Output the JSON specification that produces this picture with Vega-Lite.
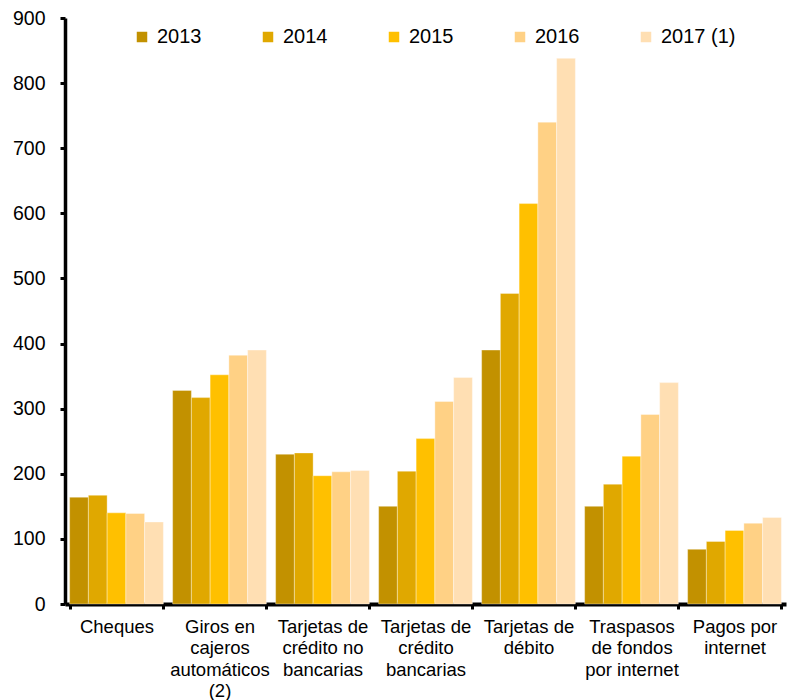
{
  "$schema": "https://vega.github.io/schema/vega-lite/v6.json",
  "width": 721,
  "height": 586,
  "autosize": {"type": "none"},
  "padding": {"left": 65, "top": 18, "right": 2, "bottom": 96},
  "background": "white",
  "config": {
    "view": {"stroke": null},
    "font": "Liberation Sans",
    "axis": {"labelFont": "Liberation Sans", "labelColor": "#000", "grid": false, "domainColor": "#000", "tickColor": "#000"},
    "legend": {"labelFont": "Liberation Sans"}
  },
  "data": {
    "values": [
      {"cat": "Cheques", "year": "2013", "value": 164},
      {"cat": "Cheques", "year": "2014", "value": 167},
      {"cat": "Cheques", "year": "2015", "value": 140},
      {"cat": "Cheques", "year": "2016", "value": 139},
      {"cat": "Cheques", "year": "2017 (1)", "value": 126},
      {"cat": "Giros en|cajeros|automáticos|(2)", "year": "2013", "value": 328},
      {"cat": "Giros en|cajeros|automáticos|(2)", "year": "2014", "value": 317},
      {"cat": "Giros en|cajeros|automáticos|(2)", "year": "2015", "value": 352},
      {"cat": "Giros en|cajeros|automáticos|(2)", "year": "2016", "value": 382},
      {"cat": "Giros en|cajeros|automáticos|(2)", "year": "2017 (1)", "value": 390},
      {"cat": "Tarjetas de|crédito no|bancarias", "year": "2013", "value": 230},
      {"cat": "Tarjetas de|crédito no|bancarias", "year": "2014", "value": 232},
      {"cat": "Tarjetas de|crédito no|bancarias", "year": "2015", "value": 197},
      {"cat": "Tarjetas de|crédito no|bancarias", "year": "2016", "value": 203},
      {"cat": "Tarjetas de|crédito no|bancarias", "year": "2017 (1)", "value": 205},
      {"cat": "Tarjetas de|crédito|bancarias", "year": "2013", "value": 150},
      {"cat": "Tarjetas de|crédito|bancarias", "year": "2014", "value": 204},
      {"cat": "Tarjetas de|crédito|bancarias", "year": "2015", "value": 254},
      {"cat": "Tarjetas de|crédito|bancarias", "year": "2016", "value": 311},
      {"cat": "Tarjetas de|crédito|bancarias", "year": "2017 (1)", "value": 348},
      {"cat": "Tarjetas de|débito", "year": "2013", "value": 390},
      {"cat": "Tarjetas de|débito", "year": "2014", "value": 477},
      {"cat": "Tarjetas de|débito", "year": "2015", "value": 615},
      {"cat": "Tarjetas de|débito", "year": "2016", "value": 740},
      {"cat": "Tarjetas de|débito", "year": "2017 (1)", "value": 838},
      {"cat": "Traspasos|de fondos|por internet", "year": "2013", "value": 150},
      {"cat": "Traspasos|de fondos|por internet", "year": "2014", "value": 184},
      {"cat": "Traspasos|de fondos|por internet", "year": "2015", "value": 227},
      {"cat": "Traspasos|de fondos|por internet", "year": "2016", "value": 291},
      {"cat": "Traspasos|de fondos|por internet", "year": "2017 (1)", "value": 340},
      {"cat": "Pagos por|internet", "year": "2013", "value": 84},
      {"cat": "Pagos por|internet", "year": "2014", "value": 96},
      {"cat": "Pagos por|internet", "year": "2015", "value": 113},
      {"cat": "Pagos por|internet", "year": "2016", "value": 124},
      {"cat": "Pagos por|internet", "year": "2017 (1)", "value": 133}
    ]
  },
  "mark": {"type": "bar", "stroke": "#ffffff", "strokeOpacity": 0.35, "strokeWidth": 1},
  "encoding": {
    "x": {
      "field": "cat",
      "type": "nominal",
      "sort": null,
      "scale": {"paddingInner": 0.09, "paddingOuter": 0.045},
      "axis": {
        "title": null,
        "labelAngle": 0,
        "labelExpr": "isValid(datum.value) ? split(datum.value, '|') : ''",
        "labelFontSize": 18.5,
        "labelLineHeight": 21.5,
        "labelPadding": 8,
        "labelBaseline": "top",
        "labelLimit": 200,
        "tickBand": "extent",
        "tickSize": 5,
        "tickWidth": 3,
        "domainWidth": 4
      }
    },
    "xOffset": {"field": "year", "type": "nominal", "scale": {"paddingInner": 0, "paddingOuter": 0}},
    "y": {
      "field": "value",
      "type": "quantitative",
      "scale": {"domain": [0, 900], "nice": false},
      "axis": {
        "title": null,
        "values": [0, 100, 200, 300, 400, 500, 600, 700, 800, 900],
        "labelFontSize": 19.5,
        "labelPadding": 15,
        "tickSize": 5,
        "tickWidth": 3,
        "domainWidth": 3.5
      }
    },
    "color": {
      "field": "year",
      "type": "nominal",
      "scale": {
        "domain": ["2013", "2014", "2015", "2016", "2017 (1)"],
        "range": ["#C29100", "#E0A800", "#FFC000", "#FFD185", "#FFDFB3"]
      },
      "legend": {
        "title": null,
        "orient": "none",
        "legendX": 67,
        "legendY": 9,
        "direction": "horizontal",
        "columns": 5,
        "gridAlign": "all",
        "columnPadding": 26,
        "symbolType": "square",
        "symbolSize": 110,
        "symbolStrokeWidth": 0,
        "symbolOpacity": 1,
        "labelFontSize": 20,
        "labelColor": "#000",
        "labelOffset": 5,
        "padding": 0
      }
    }
  }
}
